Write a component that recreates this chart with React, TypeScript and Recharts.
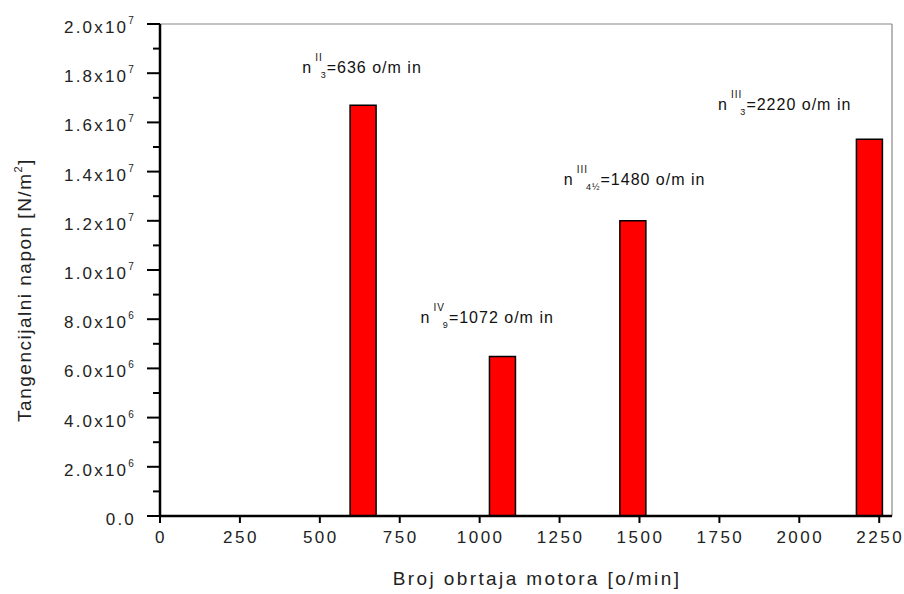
import React from "react";
import { BarChart, Bar, XAxis, YAxis, ReferenceLine, ReferenceDot, Label } from "recharts";

// motor speeds (o/min) and tangential stress (N/m^2)
const speeds = [636, 1072, 1480, 2220];
const stress = [16.7e6, 6.48e6, 12.0e6, 15.31e6];

const xTicks = [0, 250, 500, 750, 1000, 1250, 1500, 1750, 2000, 2250];
const yTicks = [
  0, 1e6, 2e6, 3e6, 4e6, 5e6, 6e6, 7e6, 8e6, 9e6, 10e6,
  11e6, 12e6, 13e6, 14e6, 15e6, 16e6, 17e6, 18e6, 19e6, 20e6,
];

// annotation text, anchored in data units (start of text, baseline)
const noteX = [445, 815, 1263, 1746];
const noteY = [18.0e6, 7.85e6, 13.45e6, 16.5e6];
const noteSup = ["II", "IV", "III", "III"];
const noteSub = ["3", "9", "4½", "3"];
const noteText = ["=636 o/m in", "=1072 o/m in", "=1480 o/m in", "=2220 o/m in"];

const data = speeds.map((s, i) => ({ rpm: s, value: stress[i] }));

const FONT = '"Liberation Sans", Arial, sans-serif';

function YTick(props: any) {
  const { x, y, payload } = props;
  const v = payload.value as number;
  const major = Math.round(v / 1e6) % 2 === 0;
  if (!major) {
    return <line x1={x - 7} x2={x} y1={y} y2={y} stroke="#000" strokeWidth={2} />;
  }
  let body: React.ReactNode = "0.0";
  if (v !== 0) {
    const exp = Math.floor(Math.log10(v) + 1e-9);
    const mant = (v / Math.pow(10, exp)).toFixed(1);
    body = (
      <>
        {mant}x10
        <tspan fontSize={10} dy={-9}>{exp}</tspan>
      </>
    );
  }
  return (
    <g>
      <line x1={x - 13} x2={x} y1={y} y2={y} stroke="#000" strokeWidth={2} />
      <text x={x - 24} y={y + 9} textAnchor="end" fontSize={17} letterSpacing={2.2} fill="#222" fontFamily={FONT}>
        {body}
      </text>
    </g>
  );
}

function XTick(props: any) {
  const { x, y, payload } = props;
  return (
    <g>
      <line x1={x} x2={x} y1={y} y2={y + 7} stroke="#000" strokeWidth={2} />
      <text x={x + 1} y={y + 27} textAnchor="middle" fontSize={17} letterSpacing={2.5} fill="#222" fontFamily={FONT}>
        {payload.value}
      </text>
    </g>
  );
}

function Note({ cx, cy, sup, sub, text }: any) {
  return (
    <text x={cx} y={cy} fontSize={16} letterSpacing={1} fill="#111" fontFamily={FONT}>
      n
      <tspan fontSize={10} dx={3} dy={-12}>{sup}</tspan>
      <tspan fontSize={9} dx={-2} dy={17}>{sub}</tspan>
      <tspan dy={-5}>{text}</tspan>
    </text>
  );
}

export default function App() {
  return (
    <div style={{ position: "absolute", left: 0, top: 0, width: 904, height: 594, background: "#fff" }}>
      <BarChart width={904} height={594} data={data} margin={{ top: 24, right: 12, bottom: 38, left: 60 }}>
        <XAxis
          dataKey="rpm"
          type="number"
          domain={[0, 2290]}
          ticks={xTicks}
          interval={0}
          tickSize={0}
          tickMargin={0}
          tickLine={false}
          tick={<XTick />}
          height={40}
          axisLine={{ stroke: "#000", strokeWidth: 2.5 }}
        >
          <Label
            content={(p: any) => {
              const vb = p.viewBox;
              return (
                <text x={vb.x + vb.width / 2 + 11} y={585} textAnchor="middle" fontSize={19} letterSpacing={2.4} fill="#222" fontFamily={FONT}>
                  Broj obrtaja motora [o/min]
                </text>
              );
            }}
          />
        </XAxis>
        <YAxis
          type="number"
          domain={[0, 2e7]}
          ticks={yTicks}
          interval={0}
          width={100}
          tickSize={0}
          tickMargin={0}
          tickLine={false}
          tick={<YTick />}
          axisLine={{ stroke: "#000", strokeWidth: 2.5 }}
        >
          <Label
            content={() => (
              <text
                x={31}
                y={290}
                transform="rotate(-90 31 290)"
                textAnchor="middle"
                fontSize={19}
                letterSpacing={1.5}
                fill="#222"
                fontFamily={FONT}
              >
                Tangencijalni napon [N/m
                <tspan fontSize={11} dy={-9}>2</tspan>
                <tspan dy={9}>]</tspan>
              </text>
            )}
          />
        </YAxis>
        <ReferenceLine y={2e7} stroke="#888" strokeWidth={1.2} />
        <ReferenceLine x={2290} stroke="#888" strokeWidth={1.2} />
        <Bar dataKey="value" fill="#ff0000" stroke="#000" strokeWidth={1.5} barSize={26} isAnimationActive={false} />
        {noteX.map((nx, i) => (
          <ReferenceDot
            key={i}
            x={nx}
            y={noteY[i]}
            r={0}
            shape={(p: any) => <Note cx={p.cx} cy={p.cy} sup={noteSup[i]} sub={noteSub[i]} text={noteText[i]} />}
          />
        ))}
      </BarChart>
    </div>
  );
}
